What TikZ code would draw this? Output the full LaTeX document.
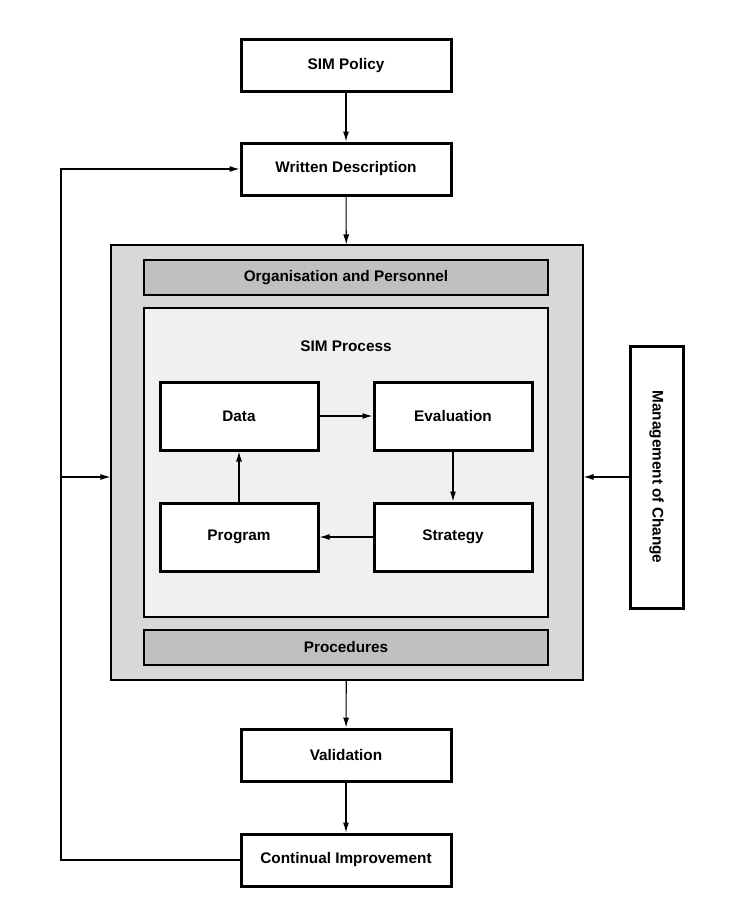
\documentclass[tikz,border=0pt]{standalone}
\usepackage{fontspec}
\setmainfont{Liberation Sans}
\usepackage{tikz}
\usetikzlibrary{arrows.meta, calc}

\definecolor{outergray}{RGB}{216,216,216}
\definecolor{bargray}{RGB}{192,192,192}
\definecolor{procgray}{RGB}{240,240,240}

\begin{document}
\begin{tikzpicture}[x=0.75pt, y=-0.75pt,
    every node/.style={font=\fontsize{11.5}{14}\selectfont\bfseries},
    mainbox/.style={draw, line width=2.25pt, fill=white, minimum width=157.5pt, minimum height=39pt},
    stepbox/.style={draw, line width=2.25pt, fill=white, minimum width=118.5pt, minimum height=51pt},
    barbox/.style={draw, line width=0.8pt, fill=bargray, minimum width=303pt, minimum height=26.25pt},
    flow/.style={-{Latex[length=7.5pt, width=4.5pt]}, line width=0.8pt}]
    \useasboundingbox (0,0) rectangle (739,903);

    % Top: policy and description
    \node[mainbox] (policy) at (346,65.5) {SIM Policy};
    \node[mainbox] (written) at (346,169) {Written Description};

    % Middle: management system
    \node[draw, line width=0.8pt, fill=outergray, minimum width=354pt, minimum height=326.25pt] (outer) at (347,462.5) {};
    \node[barbox] (org) at (346,277.5) {Organisation and Personnel};
    \node[draw, line width=0.8pt, fill=procgray, minimum width=303pt, minimum height=231.75pt] (simproc) at (346,462.5) {};
    \node (simlabel) at (346,346) {SIM Process};
    \node[barbox] (proc) at (346,647.5) {Procedures};

    % SIM cycle
    \node[stepbox] (data) at (239,416) {Data};
    \node[stepbox] (eval) at (453,416) {Evaluation};
    \node[stepbox] (strategy) at (453,537) {Strategy};
    \node[stepbox] (program) at (239,537) {Program};
    \draw[flow] (data) -- (eval);
    \draw[flow] (eval) -- (strategy);
    \draw[flow] (strategy) -- (program);
    \draw[flow] (program) -- (data);

    % Right: management of change
    \node[draw, line width=2.25pt, fill=white, minimum width=39.75pt, minimum height=196.5pt] (moc) at (656.5,477) {};
    \node[rotate=-90] (moclabel) at (moc.center) {Management of Change};
    \draw[flow] (moc.west) -- (moc.west -| outer.east);

    % Bottom: validation and improvement
    \node[mainbox] (valid) at (346,755) {Validation};
    \node[mainbox] (improve) at (346,860) {Continual Improvement};

    \draw[flow] (policy) -- (written);
    \draw[flow] (written) -- (outer);
    \draw[flow] (outer) -- (valid);
    \draw[flow] (valid) -- (improve);

    % Feedback loop
    \coordinate (loop) at (61,860);
    \coordinate (tee) at (61,477);
    \draw[flow] (improve.west) -- (loop) |- (written.west);
    \draw[flow] (tee) -- (tee -| outer.west);
\end{tikzpicture}
\end{document}
